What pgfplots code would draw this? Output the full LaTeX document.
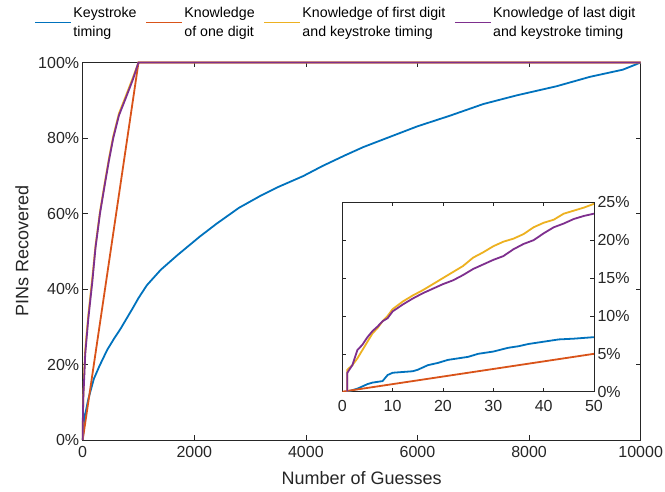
\documentclass[border=0pt]{standalone}
\usepackage{pgfplots}
\pgfplotsset{compat=1.18}
\usepackage{pgfplotstable}
\usepackage{fontspec}
\setmainfont{Liberation Sans}
\definecolor{mblue}{rgb}{0,0.447,0.741}
\definecolor{morange}{rgb}{0.850,0.325,0.098}
\definecolor{myellow}{rgb}{0.929,0.694,0.125}
\definecolor{mpurple}{rgb}{0.494,0.184,0.556}
\definecolor{axgray}{rgb}{0.15,0.15,0.15}

\pgfplotstableread{
x y
1 0
3 0.4
5 1.0
6 1.2
8 1.4
9 2.2
10 2.5
12 2.6
14 2.7
15 2.9
17 3.5
19 3.8
21 4.2
23 4.4
25 4.6
27 5.0
30 5.3
33 5.8
35 6.0
37 6.3
40 6.6
43 6.9
46 7.0
50 7.2
100 10.8
200 16.2
300 19.6
440 23.9
560 26.8
680 29.5
800 32.5
900 35.0
1000 37.6
1150 41.0
1400 45.1
1700 49.0
2100 53.9
2400 57.3
2800 61.5
3200 64.8
3500 67.0
3950 69.9
4300 72.6
4700 75.4
5030 77.6
5400 79.7
6000 83.1
6580 85.9
7180 89.0
7780 91.3
8490 93.7
9090 96.2
9680 98.1
10000 100
}\keystroke

\pgfplotstableread{
x y
0 0
1 0.1
50 5
1000 100
10000 100
}\onedigit

\pgfplotstableread{
x y
1 0
1 2.9
2 3.5
3 4.4
4 5.5
5 6.6
6 7.7
7 8.4
8 9.3
9 10.0
10 10.9
12 11.9
14 12.7
16 13.4
18 14.2
20 15.0
22 15.8
24 16.6
26 17.7
28 18.4
30 19.2
32 19.8
34 20.2
36 20.8
38 21.7
40 22.3
42 22.7
44 23.5
46 23.9
48 24.3
50 24.8
100 33
173 43
230 51.5
310 60.5
400 68.5
470 74.5
548 80.5
650 86.5
770 91
900 96
1000 100
10000 100
}\firstdigit

\pgfplotstableread{
x y
1 0
1 2.5
2 3.5
3 5.5
4 6.2
5 7.2
6 8.0
7 8.6
8 9.3
9 9.7
10 10.6
12 11.5
14 12.3
16 13.0
18 13.6
20 14.2
22 14.7
24 15.4
26 16.2
28 16.8
30 17.4
32 17.9
34 18.8
36 19.5
38 20.0
40 20.9
42 21.7
44 22.2
46 22.8
48 23.2
50 23.5
100 32
173 42
230 51
310 60
400 68
470 74
548 80
650 86
770 90.5
900 95.5
1000 100
10000 100
}\lastdigit

\begin{document}
\begin{tikzpicture}
\path[use as bounding box] (-82.7pt,-52pt) rectangle (582.3pt,440pt);
\begin{axis}[
  at={(0pt,0pt)}, anchor=south west,
  scale only axis, width=558pt, height=377.5pt,
  xmin=0, xmax=10000, ymin=0, ymax=100,
  xtick={0,2000,...,10000}, ytick={0,20,...,100},
  scaled ticks=false,
  /pgf/number format/assume math mode=true,
  /pgf/number format/1000 sep={},
  yticklabel={\pgfmathprintnumber{\tick}\%},
  tick align=inside, major tick length=5pt,
  axis line style={draw=axgray, line width=0.6pt},
  every tick/.style={axgray, line width=0.6pt},
  tick label style={font=\fontsize{16}{19}\selectfont, text=axgray},
  xticklabel style={yshift=-3pt},
  xlabel={Number of Guesses}, ylabel={PINs Recovered},
  label style={font=\fontsize{18}{21}\selectfont, text=axgray},
  xlabel style={at={(axis description cs:0.5,-0.1007)}, anchor=center},
  ylabel style={at={(axis description cs:-0.109,0.5)}, anchor=center, rotate=0},
  clip=false,
  legend columns=4,
  legend style={at={(0.453,1.106)}, anchor=center, draw=none, fill=none,
    font=\fontsize{14.2}{18.7}\selectfont, text=black,
    cells={align=left, anchor=west},
    nodes={inner xsep=1.5pt},
    /tikz/every even column/.append style={column sep=7pt}},
  legend image code/.code={\draw[#1] (0pt,0pt) -- (36pt,0pt);},
  every axis plot/.append style={line width=1.8pt},
]
\addplot[mblue] table[x=x,y=y] {\keystroke};
\addlegendentry{Keystroke\\timing}
\addplot[morange] table[x=x,y=y] {\onedigit};
\addlegendentry{Knowledge\\of one digit}
\addplot[myellow] table[x=x,y=y] {\firstdigit};
\addlegendentry{Knowledge of first digit\\and keystroke timing}
\addplot[mpurple] table[x=x,y=y] {\lastdigit};
\addlegendentry{Knowledge of last digit\\and keystroke timing}
\end{axis}

\begin{axis}[
  at={(259.6pt,48.3pt)}, anchor=south west,
  scale only axis, width=251.7pt, height=189.4pt,
  xmin=0, xmax=50, ymin=0, ymax=25,
  xtick={0,10,...,50}, ytick={0,5,...,25},
  ytick pos=both, yticklabel pos=right,
  /pgf/number format/assume math mode=true,
  yticklabel={\pgfmathprintnumber{\tick}\%},
  tick align=inside, major tick length=4pt,
  axis background/.style={fill=white},
  axis line style={draw=axgray, line width=0.6pt},
  every tick/.style={axgray, line width=0.6pt},
  tick label style={font=\fontsize{16}{19}\selectfont, text=axgray},
  xticklabel style={yshift=-5pt},
  every axis plot/.append style={line width=1.8pt},
]
\addplot[mblue, restrict x to domain=0:50] table[x=x,y=y] {\keystroke};
\addplot[morange, restrict x to domain=0:50] table[x=x,y=y] {\onedigit};
\addplot[myellow, restrict x to domain=0:50] table[x=x,y=y] {\firstdigit};
\addplot[mpurple, restrict x to domain=0:50] table[x=x,y=y] {\lastdigit};
\end{axis}
\end{tikzpicture}
\end{document}
